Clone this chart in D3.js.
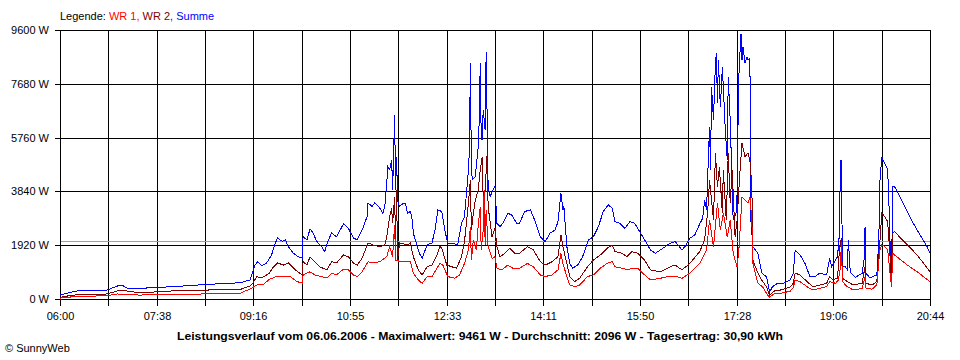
<!DOCTYPE html>
<html><head><meta charset="utf-8">
<script src="https://cdn.jsdelivr.net/npm/d3@7"></script>
<style>
body{margin:0;background:#fff}
svg{display:block}
text{font-family:"Liberation Sans",Arial,sans-serif;}
</style>
</head><body>
<svg id="chart" width="960" height="360"></svg>
<script>
// ---- data (minutes after 06:00, power in W) ----
const xLabels = ["06:00","07:38","09:16","10:55","12:33","14:11","15:50","17:28","19:06","20:44"];
const yTickValues = [0,1920,3840,5760,7680,9600];
const average = 2096;

const summeMin = [0,13,23,48,58,63,68,81,115,149,
183,193,196,198,201,205,210,215,218,221,
226,229,232,237,242,246,247,251,254,257,
261,266,269,272,276,281,288,293,298,302,
307,312,313,317,320,325,328,330,332,333,
335,337,338,339,340,341,342,343,345,349,
351,353,356,358,359,363,366,368,373,378,
381,384,388,391,394,399,404,408,411,415,
416,417,418,419,422,424,425,426,427,428,
429,430,432,433,434,435,437,440,442,444,
447,450,455,459,464,467,472,478,483,488,
493,498,503,506,509,511,512,515,518,521,
526,531,537,542,547,552,557,561,564,569,
574,579,584,589,594,600,605,610,615,620,
625,628,632,635,640,645,650,653,655,657,
658,660,661,662,664,666,667,668,669,671,
673,674,676,678,679,681,683,684,687,688,
689,690,692,693,694,696,698,699,701,702,
704,709,713,718,721,724,729,735,742,745,
747,749,752,757,762,767,772,779,782,784,
790,792,793,794,795,798,800,801,803,808,
815,817,818,819,823,830,832,833,835,836,
838,841,843,844,845,846,848,854,861,867,
871,874,881,884];
const summeW = [140,260,320,320,460,500,390,380,440,520,
580,680,970,1210,1330,1180,1290,1570,1930,2180,
2050,2110,1870,1640,1510,1460,2220,2110,2500,2360,
2050,1870,1690,2050,2360,2220,2680,2530,2180,2110,
2460,2940,3430,3300,3440,3240,3060,3300,4130,4720,
4610,4960,3890,5200,6570,3890,5080,3530,3300,3420,
3420,3060,3120,2820,2350,1870,1570,1460,1930,2000,
2460,3180,3120,2460,1990,1990,1930,2700,2940,4610,
5320,8410,4610,4250,4370,5080,5440,6390,8410,5680,
5680,6750,6030,8830,6510,4010,3650,3890,4010,2700,
2580,2700,3060,3000,2700,2700,3120,3180,2760,2220,
2050,2350,2460,2760,3770,3180,3300,1870,1270,1100,
1210,1510,2110,2220,2580,3120,3360,3240,2760,2700,
2520,2760,2700,2400,2110,1750,1630,1750,1870,1990,
2050,1930,1750,1870,2170,2280,2680,2880,3530,3180,
4250,6140,4610,7570,6390,8430,8780,7000,8530,6850,
8280,7570,6030,4960,7930,6390,4000,2820,3070,3780,
6390,8180,9461,8530,9000,8430,8640,8530,8600,2820,
1860,1640,930,790,250,440,560,560,680,920,
1750,1680,1570,1270,800,800,920,860,1450,1150,
1510,2350,4960,4960,1150,1150,1040,2110,960,770,
920,1390,2580,920,750,860,2110,4140,5080,4960,
4840,4610,2700,1040,800,4010,4010,3610,3110,2700,
2460,2280,1870,1630];

const wr2Min = [0,13,48,61,81,115,149,183,193,196,
200,205,213,216,221,227,232,239,246,247,
251,254,259,264,271,276,281,288,293,298,
302,307,313,318,325,330,332,335,337,338,
340,341,342,343,345,353,356,359,364,368,
373,378,383,386,388,393,398,403,408,411,
415,417,418,420,422,425,427,429,430,432,
434,435,439,442,444,447,452,457,462,467,
475,481,488,493,500,506,509,511,515,518,
523,528,536,542,549,556,561,564,571,576,
581,587,594,600,610,620,625,632,640,650,
655,658,660,664,666,668,670,673,674,677,
679,681,683,686,688,691,693,696,699,701,
703,704,709,713,718,721,727,732,742,745,
747,752,759,765,772,779,782,785,790,792,
794,795,800,806,815,818,819,825,830,833,
835,838,841,843,845,846,848,861,871,884];
const wr2W = [60,140,180,320,220,290,320,340,460,570,
800,750,930,1110,1290,1210,1290,1040,860,1330,
1210,1510,1330,1150,1040,1330,1290,1570,1510,1290,
1210,1460,2000,1930,1870,1930,2220,2940,3240,2700,
3640,2110,3890,1390,2000,1930,2000,1510,1040,860,
1150,1210,1570,1870,1810,1210,1150,1100,1510,2050,
3420,4250,2460,3060,3530,3890,4610,5080,3530,3890,
5200,3300,2220,2520,1870,1510,1630,1810,1630,1630,
1870,1750,1330,1210,1330,1510,2280,1870,1270,800,
620,740,1150,1390,1570,1810,1930,1690,1630,1510,
1690,1630,1390,1040,970,1150,1210,1040,1270,1690,
2110,3070,4250,2820,5210,4000,4710,3070,4610,2820,
5210,3430,4610,2210,2820,4610,5570,5070,5210,4960,
4000,1390,930,680,430,140,320,320,430,560,
920,860,620,440,500,560,800,680,740,1750,
2180,740,620,500,560,1150,560,500,620,1990,
3060,2940,2760,1750,560,2350,2400,1930,1570,970];

const wr1Min = [0,13,48,58,81,115,149,183,195,200,
206,213,220,227,234,241,246,247,254,259,
266,271,276,281,288,293,298,302,307,313,
318,325,332,335,338,339,340,341,343,345,
356,359,364,368,373,378,383,386,389,394,
401,406,411,415,417,418,420,423,425,427,
428,430,431,432,433,435,439,442,444,449,
455,460,467,475,481,488,493,500,506,509,
511,515,518,523,528,536,542,549,556,561,
564,571,577,582,587,594,600,610,620,625,
632,640,650,657,660,664,668,671,674,678,
681,684,688,690,693,696,699,701,703,704,
709,714,719,721,727,732,742,745,747,752,
759,765,772,779,782,788,791,793,794,795,
800,806,815,818,819,825,830,833,835,838,
841,843,845,846,848,861,871,884];
const wr1W = [30,80,120,180,140,170,180,200,390,500,
500,710,800,800,800,620,570,860,970,860,
800,750,920,860,1060,1040,860,800,970,1330,
1290,1330,1510,1870,1510,2110,2640,1390,1390,1330,
1330,920,680,560,800,800,1100,1270,1210,800,
740,860,1270,1750,2580,1390,2110,1750,2640,3300,
1750,2460,3900,1930,3180,1870,1450,1510,1100,1040,
1210,1100,1100,1270,1150,860,800,860,1040,1630,
1270,800,500,440,500,800,860,1100,1270,1330,
1150,1100,1040,1100,1100,860,680,740,820,820,
740,920,1270,1750,2820,1860,3430,2460,3070,2210,
2820,1640,1140,1860,3640,3530,3430,3640,2820,1290,
570,430,140,70,210,200,280,400,680,620,
440,320,380,440,620,560,680,1150,2050,620,
440,320,380,800,380,350,500,1750,1930,1870,
1750,1040,440,1630,1570,1210,970,620];

// ---- chart ----
const svg = d3.select("#chart");
const L = 60, R = 930, T = 30, B = 299;
const x = d3.scaleLinear().domain([0, 884]).range([L, R]);
const y = d3.scaleLinear().domain([0, 9600]).range([B, T]);
const px = v => Math.round(v) + 0.5;

const tickMinutes = d3.range(19).map(i => i * 884 / 18);

// grid
const grid = svg.append("g").attr("shape-rendering", "crispEdges").attr("stroke", "#000").attr("stroke-width", 1);
tickMinutes.forEach(t => {
  grid.append("line").attr("x1", px(x(t))).attr("x2", px(x(t))).attr("y1", T).attr("y2", B);
});
yTickValues.forEach(v => {
  grid.append("line").attr("x1", L).attr("x2", R + 1).attr("y1", px(y(v))).attr("y2", px(y(v)));
});

// average line
svg.append("line").attr("shape-rendering", "crispEdges")
  .attr("x1", L + 1).attr("x2", R).attr("y1", Math.ceil(y(average)) + 0.5).attr("y2", Math.ceil(y(average)) + 0.5)
  .attr("stroke", "#a0a0a0").attr("stroke-width", 1);

// axes
const xAxis = d3.axisBottom(x).tickValues(tickMinutes).tickSize(6).tickPadding(7)
  .tickFormat((d, i) => i % 2 === 0 ? xLabels[i / 2] : "");
const gx = svg.append("g").attr("transform", `translate(0.5,${px(y(0))})`).call(xAxis);
const yAxis = d3.axisLeft(y).tickValues(yTickValues).tickSize(5).tickPadding(6)
  .tickFormat(d => d + " W");
const gy = svg.append("g").attr("transform", `translate(${L},0.5)`).call(yAxis);
[gx, gy].forEach(g => {
  g.select(".domain").remove();
  g.selectAll(".tick line").attr("stroke", "#000").attr("shape-rendering", "crispEdges");
  g.selectAll(".tick text").attr("fill", "#000").attr("font-size", "11px")
    .attr("font-family", '"Liberation Sans",Arial,sans-serif');
});
gy.selectAll(".tick").attr("transform", d => `translate(0,${Math.round(y(d))})`);
gx.selectAll(".tick").attr("transform", d => `translate(${Math.round(x(d))},0)`);

// series
function series(mins, vals, color) {
  const pts = mins.map((m, i) => [m, vals[i]]);
  const line = d3.line().x(d => x(d[0])).y(d => y(d[1]));
  svg.append("path").datum(pts).attr("d", line)
    .attr("fill", "none").attr("stroke", color).attr("stroke-width", 1)
    .attr("shape-rendering", "crispEdges").attr("stroke-linejoin", "miter");
}
series(summeMin, summeW, "#0000ff");
series(wr2Min, wr2W, "#800000");
series(wr1Min, wr1W, "#ff0000");

// legend
const leg = svg.append("text").attr("x", 60).attr("y", 20).attr("font-size", "11px");
leg.append("tspan").attr("fill", "#000").text("Legende: ");
leg.append("tspan").attr("fill", "#ff0000").text("WR 1, ");
leg.append("tspan").attr("fill", "#800000").text("WR 2, ");
leg.append("tspan").attr("fill", "#0000ff").text("Summe");

// title
svg.append("text").attr("x", 480).attr("y", 340).attr("text-anchor", "middle")
  .attr("font-size", "11.5px").attr("font-weight", "bold").attr("fill", "#000")
  .attr("textLength", 606).attr("lengthAdjust", "spacingAndGlyphs")
  .text("Leistungsverlauf vom 06.06.2006 - Maximalwert: 9461 W - Durchschnitt: 2096 W - Tagesertrag: 30,90 kWh");

svg.append("text").attr("x", 5).attr("y", 352).attr("font-size", "11px").attr("fill", "#000")
  .text("© SunnyWeb");
</script>
</body></html>
